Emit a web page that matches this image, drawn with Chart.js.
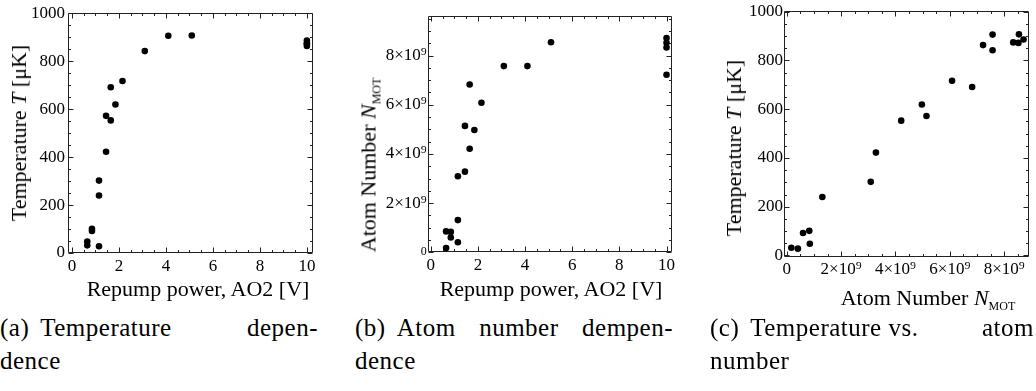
<!DOCTYPE html>
<html><head><meta charset="utf-8">
<script src="https://cdn.jsdelivr.net/npm/chart.js@4.4.1/dist/chart.umd.min.js"></script>
<style>
html,body{margin:0;padding:0;background:#fff;width:1036px;height:391px;overflow:hidden;position:relative;}
canvas{position:absolute;top:0;}
.t{position:absolute;font-family:"Liberation Serif",serif;font-size:22px;line-height:22px;white-space:nowrap;color:#000;}
.ty{transform:translate(-50%,-50%) rotate(-90deg);}
.tx{transform:translate(-50%,-50%);}
.sub{position:relative;top:5px;font-size:12px;}
.cap{position:absolute;font-family:"Liberation Serif",serif;font-size:25px;line-height:29px;color:#000;white-space:nowrap;letter-spacing:0.5px;}
.row{display:flex;}
.lab{flex:none;margin-right:11px;}
.rest{flex:1;text-align:justify;text-align-last:justify;white-space:normal;}
.keep{display:inline-block;white-space:nowrap;}
</style></head>
<body>
<canvas id="ca" width="345" height="300" style="left:0px"></canvas>
<canvas id="cb" width="340" height="300" style="left:350px"></canvas>
<canvas id="cc" width="336" height="300" style="left:700px"></canvas>

<div class="t ty" style="left:19px;top:133px">Temperature <i>T</i> [μK]</div>
<div class="t tx" style="left:198px;top:289px">Repump power, AO2 [V]</div>
<div class="t ty" style="left:370px;top:165px">Atom Number <i>N</i><span class="sub">MOT</span></div>
<div class="t tx" style="left:551px;top:289px">Repump power, AO2 [V]</div>
<div class="t ty" style="left:734px;top:148px">Temperature <i>T</i> [μK]</div>
<div class="t tx" style="left:928px;top:299px">Atom Number <i>N</i><span class="sub">MOT</span></div>

<div class="cap row" style="left:0px;top:313px;width:318px"><span class="lab">(a)</span><span class="rest">Temperature depen-</span></div>
<div class="cap" style="left:0px;top:346px">dence</div>
<div class="cap row" style="left:355px;top:313px;width:318px"><span class="lab">(b)</span><span class="rest">Atom number dempen-</span></div>
<div class="cap" style="left:355px;top:346px">dence</div>
<div class="cap row" style="left:710px;top:313px;width:324px"><span class="lab">(c)</span><span class="rest"><span class="keep">Temperature vs.</span> atom</span></div>
<div class="cap" style="left:710px;top:346px">number</div>

<script>
// ---- data ----
const repumpAO2 = [0.65,0.65,0.85,0.85,1.15,1.15,1.15,1.45,1.45,1.65,1.65,1.85,2.15,3.1,4.1,5.1,10,10,10,10];
const temperatureUK = [32,48,92,101,28,240,302,422,572,553,691,619,717,842,906,907,863,874,872,886];
const atomNumber = [0.17e9,0.85e9,0.60e9,0.83e9,0.41e9,1.31e9,3.09e9,3.28e9,5.14e9,4.21e9,6.82e9,4.97e9,6.08e9,7.57e9,7.57e9,8.54e9,7.22e9,8.33e9,8.52e9,8.71e9];

// ---- tick values / labels ----
const powerTicks = [0,2,4,6,8,10];
const powerTickLabels = ['0','2','4','6','8','10'];
const tempTicks = [0,200,400,600,800,1000];
const tempTickLabels = ['0','200','400','600','800','1000'];
const atomTicks = [0,2e9,4e9,6e9,8e9];
const atomTickLabels = ['0','2×10⁹','4×10⁹','6×10⁹','8×10⁹'];

const TICK_FONT = {family:'"Liberation Serif", serif', size:17};

function minorValues(min, max, step, majors){
  const out = [];
  const start = Math.ceil(min/step);
  for (let k = start; k*step <= max + 1e-9*Math.abs(step); k++){
    const v = k*step;
    if (!majors.some(m => Math.abs(m - v) < step*1e-3)) out.push(v);
  }
  return out;
}

const frameTicks = {
  id: 'frameTicks',
  beforeDatasetsDraw(chart, args, o){
    const {ctx, chartArea: a, scales: {x, y}} = chart;
    const L = Math.round(a.left)+0.5, R = Math.round(a.right)-0.5;
    const T = Math.round(a.top)+0.5, B = Math.round(a.bottom)-0.5;
    ctx.save();
    ctx.strokeStyle = '#222';
    ctx.lineWidth = 1;
    ctx.beginPath();
    ctx.rect(L, T, R-L, B-T);
    ctx.stroke();
    const xmin = x.min, xmax = x.max, ymin = y.min, ymax = y.max;
    const drawX = (vals, len) => {
      vals.forEach(v => {
        if (v < xmin || v > xmax) return;
        const p = Math.round(x.getPixelForValue(v))+0.5;
        ctx.beginPath();
        ctx.moveTo(p, B); ctx.lineTo(p, B-len);
        ctx.moveTo(p, T); ctx.lineTo(p, T+len);
        ctx.stroke();
      });
    };
    const drawY = (vals, len) => {
      vals.forEach(v => {
        if (v < ymin || v > ymax) return;
        const p = Math.round(y.getPixelForValue(v))+0.5;
        ctx.beginPath();
        ctx.moveTo(L, p); ctx.lineTo(L+len, p);
        ctx.moveTo(R, p); ctx.lineTo(R-len, p);
        ctx.stroke();
      });
    };
    drawX(o.xMajor, 5);
    drawX(minorValues(xmin, xmax, o.xMinor, o.xMajor), 2.5);
    drawY(o.yMajor, 5);
    drawY(minorValues(ymin, ymax, o.yMinor, o.yMajor), 2.5);
    ctx.restore();
  }
};

function axis(min, max, values, labels, isX, size, pad, fontFn){
  return {
    type: 'linear', min, max,
    afterBuildTicks: s => { s.ticks = values.map(v => ({value: v})); },
    afterFit: s => { if (isX) s.height = size; else s.width = size; },
    grid: {display: false, drawTicks: false},
    border: {display: false},
    ticks: {
      autoSkip: false, maxRotation: 0, minRotation: 0,
      padding: pad, color: '#000',
      font: fontFn || TICK_FONT,
      callback: (v, i) => labels[i]
    }
  };
}

function makeChart(id, xs, ys, pad, xAxis, yAxis, fr){
  return new Chart(document.getElementById(id), {
    type: 'scatter',
    data: {datasets: [{
      data: xs.map((v, i) => ({x: v, y: ys[i]})),
      pointRadius: 3.3, pointHoverRadius: 3.3,
      backgroundColor: '#000', borderWidth: 0
    }]},
    options: {
      responsive: false, animation: false, devicePixelRatio: 1,
      layout: {padding: pad, autoPadding: false},
      plugins: {legend: {display: false}, tooltip: {enabled: false}, frameTicks: fr},
      events: [],
      scales: {x: xAxis, y: yAxis}
    },
    plugins: [frameTicks]
  });
}

// (a) temperature vs repump power
makeChart('ca', repumpAO2, temperatureUK,
  {left: 0, right: 32, top: 10, bottom: 0},
  axis(-0.17, 10.26, powerTicks, powerTickLabels, true, 47, 3),
  axis(0, 1000, tempTicks, tempTickLabels, false, 68, 3),
  {xMajor: powerTicks, xMinor: 0.5, yMajor: tempTicks, yMinor: 50});

// (b) atom number vs repump power
makeChart('cb', repumpAO2, atomNumber,
  {left: 0, right: 18.3, top: 15.7, bottom: 0},
  axis(-0.13, 10.22, powerTicks, powerTickLabels, true, 47.7, 3),
  axis(0, 9.62e9, atomTicks, atomTickLabels, false, 77.7, 1,
       ctx => (ctx.tick && ctx.tick.value === 0) ? {family:'"Liberation Serif", serif', size:12} : TICK_FONT),
  {xMajor: powerTicks, xMinor: 0.5, yMajor: atomTicks, yMinor: 0.5e9});

// (c) temperature vs atom number
makeChart('cc', atomNumber, temperatureUK,
  {left: 0, right: 7, top: 11, bottom: 0},
  axis(-0.1e9, 8.91e9, atomTicks, atomTickLabels, true, 43.3, 3),
  axis(-5, 1002, tempTicks, tempTickLabels, false, 84, 1),
  {xMajor: atomTicks, xMinor: 0.5e9, yMajor: tempTicks, yMinor: 50});
</script>
</body></html>
